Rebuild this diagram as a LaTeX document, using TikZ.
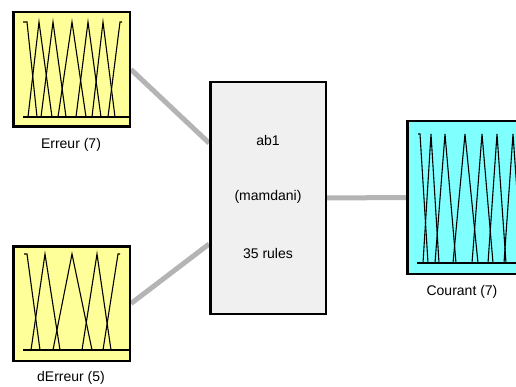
\documentclass[tikz,border=0pt]{standalone}
\usepackage{fontspec}
\setmainfont{Liberation Sans}
\usetikzlibrary{backgrounds}
\definecolor{mfyellow}{HTML}{FFFF99}
\definecolor{mfcyan}{HTML}{80FFFF}
\definecolor{rulegray}{HTML}{F0F0F0}
\definecolor{linkgray}{HTML}{B4B4B4}
\begin{document}
\begin{tikzpicture}[x=1pt,y=-1pt,
  varbox/.style={draw=black,line width=2.5pt,rectangle,inner sep=0pt,minimum width=116.5pt,minimum height=114.5pt},
  inbox/.style={varbox,fill=mfyellow},
  outbox/.style={varbox,fill=mfcyan,minimum width=120pt,minimum height=152.5pt},
  rulebox/.style={draw=black,line width=2.5pt,rectangle,inner sep=0pt,fill=rulegray,minimum width=115.5pt,minimum height=231.5pt},
  lbl/.style={inner sep=0pt,font=\fontsize{14}{16}\selectfont},
  link/.style={draw=linkgray,line width=5pt},
  mf/.style={draw=black,line width=1.1pt,line join=miter}]
\useasboundingbox (0,0) rectangle (516,387);

% boxes
\node[inbox] (erreur) at (71.5,69.5) {};
\node[inbox] (derreur) at (71.5,303.5) {};
\node[rulebox] (mid) at (268,198) {};
\node[outbox] (courant) at (467.25,197.5) {};

% labels
\node[lbl] (lerreur) at (71,145) {Erreur (7)};
\node[lbl] (lderreur) at (71,378) {dErreur (5)};
\node[lbl] (lcourant) at (462,292) {Courant (7)};
\node[lbl] (tname) at (268,140) {ab1};
\node[lbl] (ttype) at (268,197) {(mamdani)};
\node[lbl] (trules) at (268,253) {35 rules};

% connectors (behind the boxes)
\begin{pgfonlayer}{background}
\fill[white] (0,0) rectangle (516,387);
\draw[link] (erreur.east) -- (mid.137);
\draw[link] (derreur.east) -- (mid.218);
\draw[link] (mid.east) -- (courant.west);
\end{pgfonlayer}

% membership functions: Erreur (7)
\draw[mf] (23,117) -- (130,117);
\draw[mf] (23,22) -- (27,22) -- (37,117);
\draw[mf] (28,117) -- (39,22) -- (52,117);
\draw[mf] (41,117) -- (53,22) -- (66,117);
\draw[mf] (58,117) -- (72,22) -- (86,117);
\draw[mf] (76,117) -- (88,22) -- (101,117);
\draw[mf] (92,117) -- (103,22) -- (115,117);
\draw[mf] (108,117) -- (120,22) -- (122,22);

% membership functions: dErreur (5)
\draw[mf] (23,350) -- (130,350);
\draw[mf] (24,254) -- (27,254) -- (40,350);
\draw[mf] (31,350) -- (45,254) -- (60,350);
\draw[mf] (53,350) -- (72,254) -- (92,350);
\draw[mf] (82,350) -- (97,254) -- (111,350);
\draw[mf] (103,350) -- (118,254) -- (120,254);

% membership functions: Courant (7)
\begin{scope}
\clip (406,120) rectangle (530,275);
\draw[mf] (417,263) -- (530,263);
\draw[mf] (418,134) -- (420,134) -- (428,263);
\draw[mf] (423,263) -- (431,134) -- (439,263);
\draw[mf] (435,263) -- (445,134) -- (456,263);
\draw[mf] (453,263) -- (465,134) -- (478,263);
\draw[mf] (472,263) -- (482,134) -- (493,263);
\draw[mf] (488,263) -- (497,134) -- (506,263);
\draw[mf] (504,263) -- (513,134) -- (522,263);
\end{scope}
\end{tikzpicture}
\end{document}
